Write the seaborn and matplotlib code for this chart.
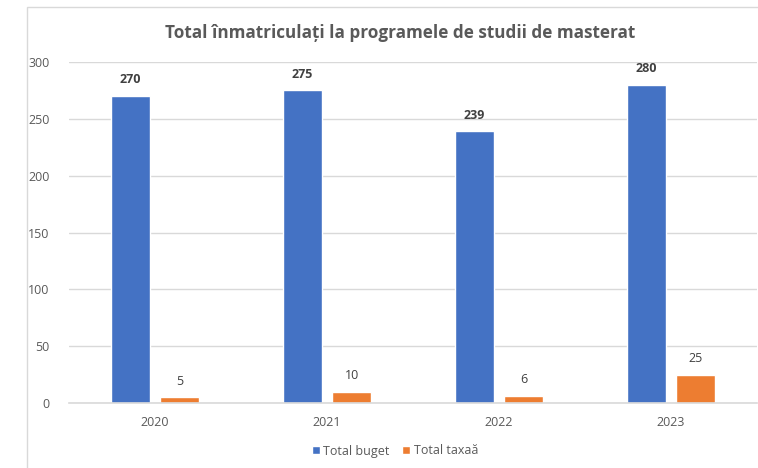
import matplotlib
matplotlib.use("Agg")
import matplotlib.pyplot as plt
import pandas as pd
import seaborn as sns
from matplotlib.patches import Rectangle

# data
years = ["2020", "2021", "2022", "2023"]
total_buget = [270, 275, 239, 280]
total_taxa = [5, 10, 6, 25]
series_names = ["Total buget", "Total taxaă"]
colors = ["#4472C4", "#ED7D31"]

df = pd.DataFrame({
    "an": years * 2,
    "valoare": total_buget + total_taxa,
    "serie": [series_names[0]] * 4 + [series_names[1]] * 4,
})

sns.set_style("white")
plt.rcParams["font.family"] = ["Open Sans", "DejaVu Sans"]

fig = plt.figure(figsize=(7.58, 4.68), dpi=100)
ax = fig.add_axes([69 / 758, 65 / 468, 688 / 758, 341 / 468])

sns.barplot(data=df, x="an", y="valoare", hue="serie", palette=colors,
            width=0.576, gap=0.22, ax=ax, legend=True, saturation=1)

ax.set_ylim(0, 300)
ax.set_yticks(range(0, 301, 50))
ax.yaxis.grid(True, color="#d9d9d9", linewidth=1)
ax.set_axisbelow(True)
for s in ["top", "right", "left"]:
    ax.spines[s].set_visible(False)
ax.spines["bottom"].set_color("#d9d9d9")
ax.spines["bottom"].set_linewidth(1.2)
ax.tick_params(axis="both", length=0, labelsize=9, colors="#595959")
ax.tick_params(axis="x", pad=9)
ax.tick_params(axis="y", pad=14)
ax.set_xlabel("")
ax.set_ylabel("")

# value labels
ax.bar_label(ax.containers[0], padding=7, fontsize=9, fontweight="bold", color="#404040")
ax.bar_label(ax.containers[1], padding=7, fontsize=9, color="#404040")

fig.text(400 / 758, 1 - 33 / 468, "Total înmatriculați la programele de studii de masterat",
         ha="center", va="center", fontsize=12.3, fontweight="bold", color="#595959")

ax.legend(loc="center", bbox_to_anchor=(395 / 758, 1 - 451 / 468),
          bbox_transform=fig.transFigure, ncol=2, frameon=False,
          fontsize=9, labelcolor="#595959", handlelength=0.6, handleheight=0.6,
          handletextpad=0.3, columnspacing=1.0)

# light chart border (cut off at right and bottom)
fig.patches.append(Rectangle((27 / 758, -0.05), 1.0, 1 - 7 / 468 + 0.05,
                             transform=fig.transFigure, fill=False,
                             edgecolor="#d9d9d9", linewidth=1))

fig.savefig("out.png", dpi=100)
